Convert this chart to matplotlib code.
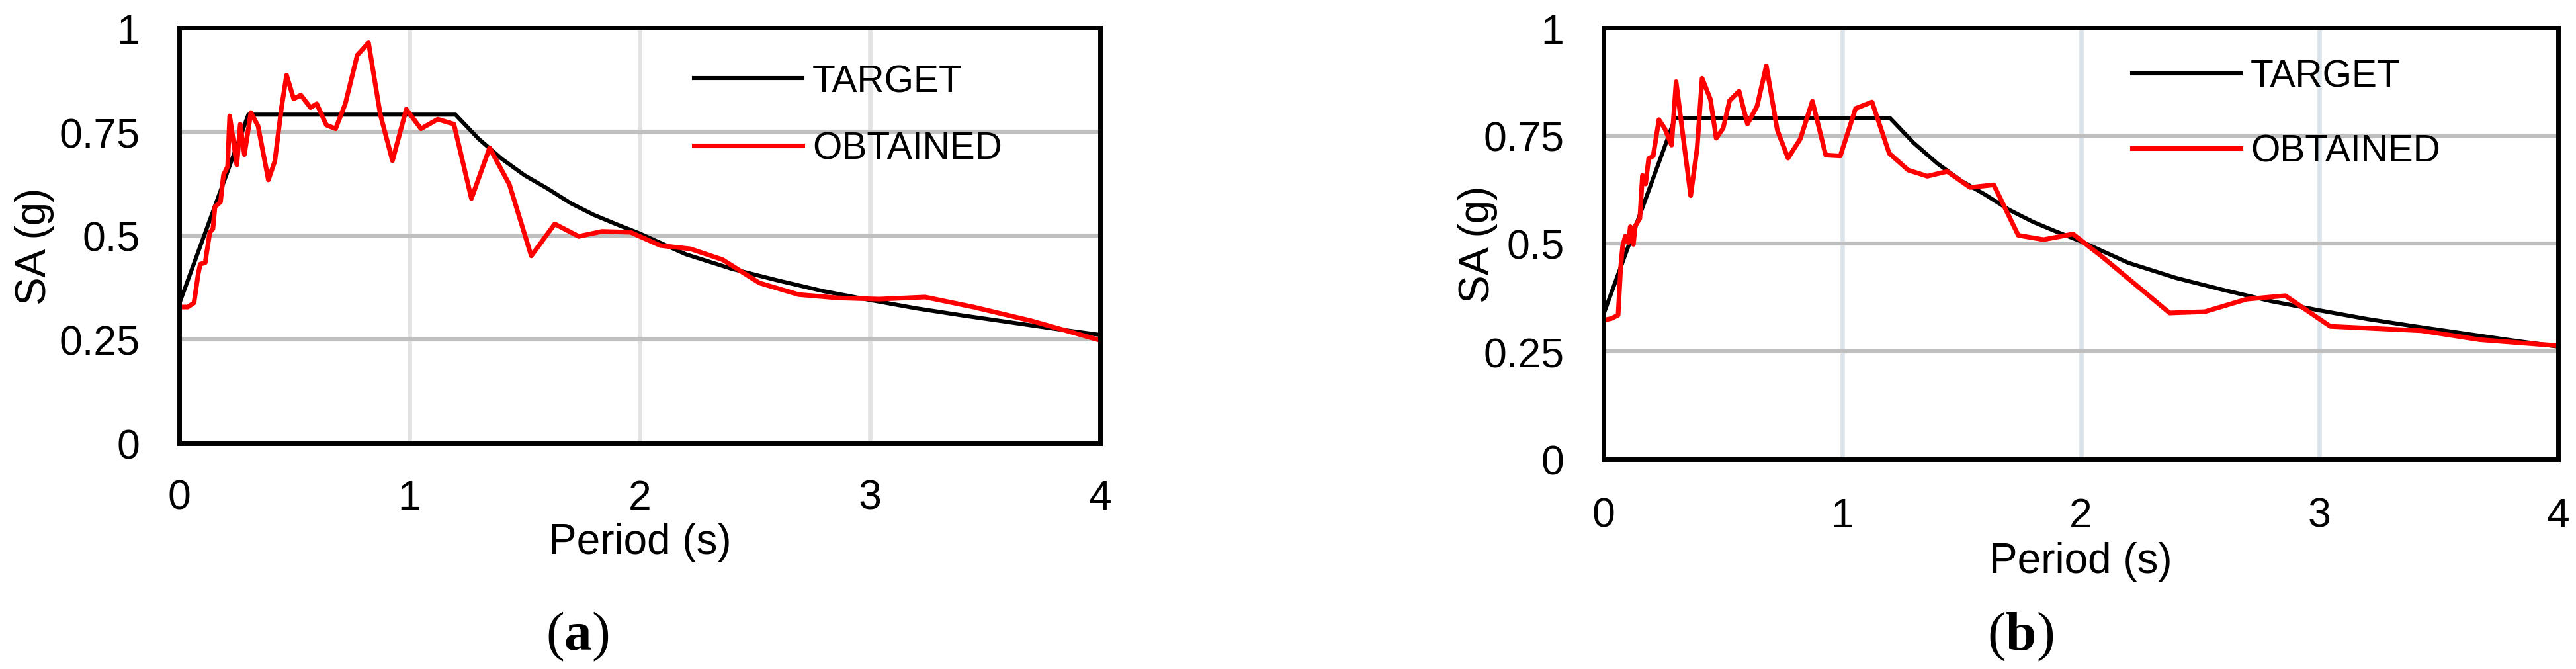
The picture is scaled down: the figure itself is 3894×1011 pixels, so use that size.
import matplotlib
matplotlib.use('Agg')
import matplotlib.pyplot as plt

# Espectro objetivo (comun a los dos paneles)
periods_target = [0, 0.30, 1.20, 1.30, 1.40, 1.50, 1.60, 1.70, 1.80, 1.90, 2.00,
                  2.20, 2.40, 2.60, 2.80, 3.00, 3.20, 3.40, 3.60, 3.80, 4.00]
sa_target = [0.336, 0.791, 0.791, 0.733, 0.685, 0.645, 0.613, 0.578, 0.550, 0.527, 0.505,
             0.455, 0.420, 0.392, 0.366, 0.345, 0.325, 0.308, 0.292, 0.276, 0.261]

# Espectro obtenido (a)
periods_a = [0.005, 0.037, 0.064, 0.082, 0.091, 0.113, 0.119, 0.133, 0.146, 0.155,
             0.179, 0.192, 0.210, 0.219, 0.250, 0.265, 0.283, 0.311, 0.342, 0.387,
             0.415, 0.444, 0.466, 0.497, 0.528, 0.570, 0.597, 0.639, 0.679, 0.721,
             0.773, 0.822, 0.873, 0.926, 0.986, 1.050, 1.123, 1.193, 1.269, 1.348,
             1.434, 1.529, 1.631, 1.735, 1.836, 1.960, 2.090, 2.220, 2.360, 2.520,
             2.690, 2.860, 3.040, 3.240, 3.450, 3.700, 4.000]
sa_a = [0.328, 0.328, 0.338, 0.407, 0.431, 0.435, 0.459, 0.508, 0.516, 0.569,
        0.581, 0.646, 0.666, 0.788, 0.670, 0.768, 0.695, 0.796, 0.764, 0.634,
        0.679, 0.808, 0.886, 0.829, 0.838, 0.808, 0.817, 0.766, 0.757, 0.817,
        0.934, 0.964, 0.792, 0.680, 0.804, 0.757, 0.780, 0.768, 0.589, 0.711,
        0.623, 0.451, 0.528, 0.498, 0.510, 0.508, 0.476, 0.468, 0.442, 0.386,
        0.358, 0.350, 0.347, 0.352, 0.328, 0.295, 0.248]

# Espectro obtenido (b)
periods_b = [0.005, 0.032, 0.061, 0.072, 0.080, 0.091, 0.104, 0.112, 0.125, 0.133,
             0.152, 0.163, 0.176, 0.189, 0.208, 0.232, 0.256, 0.285, 0.304, 0.336,
             0.365, 0.392, 0.413, 0.448, 0.472, 0.501, 0.528, 0.568, 0.603, 0.643,
             0.682, 0.728, 0.773, 0.824, 0.875, 0.931, 0.992, 1.056, 1.125, 1.197,
             1.277, 1.357, 1.440, 1.536, 1.635, 1.738, 1.844, 1.967, 2.090, 2.372,
             2.520, 2.695, 2.857, 3.045, 3.426, 3.672, 4.000]
sa_b = [0.323, 0.326, 0.334, 0.447, 0.494, 0.517, 0.502, 0.539, 0.498, 0.541,
        0.558, 0.658, 0.638, 0.697, 0.703, 0.787, 0.767, 0.728, 0.875, 0.736,
        0.611, 0.720, 0.883, 0.834, 0.744, 0.767, 0.831, 0.853, 0.777, 0.818,
        0.912, 0.763, 0.698, 0.742, 0.830, 0.705, 0.703, 0.813, 0.828, 0.709,
        0.670, 0.656, 0.667, 0.630, 0.636, 0.519, 0.509, 0.522, 0.469, 0.339,
        0.342, 0.371, 0.379, 0.308, 0.298, 0.277, 0.263]

x_ticks = [0, 1, 2, 3, 4]
y_ticks = [0, 0.25, 0.5, 0.75, 1]
y_tick_labels = ['0', '0.25', '0.5', '0.75', '1']
legend_labels = ['TARGET', 'OBTAINED']
panel_tags = ['a', 'b']

plt.rcParams['font.family'] = ['Liberation Sans', 'DejaVu Sans']
plt.rcParams['mathtext.fontset'] = 'custom'
plt.rcParams['mathtext.rm'] = 'Liberation Serif'
plt.rcParams['mathtext.bf'] = 'Liberation Serif:bold'

W, H = 3894, 1012
fig = plt.figure(figsize=(W / 100, H / 100), dpi=100)

# cajas de los ejes en pixeles: (izq, der, arriba, abajo)
boxes = [(271, 1663, 43, 671), (2424, 3867, 43, 695)]
vgrid_colors = ['#E3E3E3', '#DCE4EB']
data = [(periods_a, sa_a), (periods_b, sa_b)]
legend_anchor = [(1049, 97), (3223, 90)]
legend_spacing = [0.84, 1.03]
xpad = [38, 40]
ylabel_x = [52, 2234]
ylabel_y = [372, 369]
xlabel_base = [837, 866]
tag_x = [873, 3054]

for i in range(2):
    l, r, t, b = boxes[i]
    ax = fig.add_axes([l / W, 1 - b / H, (r - l) / W, (b - t) / H])
    periods, sa = data[i]

    ax.plot(periods_target, sa_target, color='black', lw=4.4, label=legend_labels[0],
            solid_joinstyle='round')
    ax.plot(periods, sa, color='#FF0000', lw=5.1, label=legend_labels[1],
            solid_joinstyle='round')

    ax.set_xlim(0, 4)
    ax.set_ylim(0, 1)
    ax.set_xticks(x_ticks)
    ax.set_yticks(y_ticks)
    ax.set_yticklabels(y_tick_labels)
    ax.set_axisbelow(True)
    ax.grid(axis='y', color='#BFBFBF', lw=4.4)
    ax.grid(axis='x', color=vgrid_colors[i], lw=4.8)
    ax.tick_params(length=0, labelsize=45)
    ax.tick_params(axis='y', pad=43)
    ax.tick_params(axis='x', pad=xpad[i])
    for sp in ax.spines.values():
        sp.set_linewidth(5.0)
        sp.set_color('black')

    ax_x, ax_y = legend_anchor[i]
    ax.legend(loc='upper left',
              bbox_to_anchor=((ax_x - l) / (r - l), (b - ax_y) / (b - t)),
              frameon=False, fontsize=41, borderpad=0, borderaxespad=0,
              handlelength=2.88, handletextpad=0.26, labelspacing=legend_spacing[i])

    fig.text(ylabel_x[i] / W, 1 - ylabel_y[i] / H, 'SA (g)', rotation=90,
             ha='center', va='center', fontsize=46)
    fig.text((l + r) / 2 / W, 1 - xlabel_base[i] / H, 'Period (s)',
             ha='center', va='baseline', fontsize=46)
    fig.text(tag_x[i] / W, 1 - 982 / H, r'($\mathbf{%s}$)' % panel_tags[i],
             ha='center', va='baseline', fontsize=60, family='Liberation Serif')

fig.savefig('out.png', dpi=100)
